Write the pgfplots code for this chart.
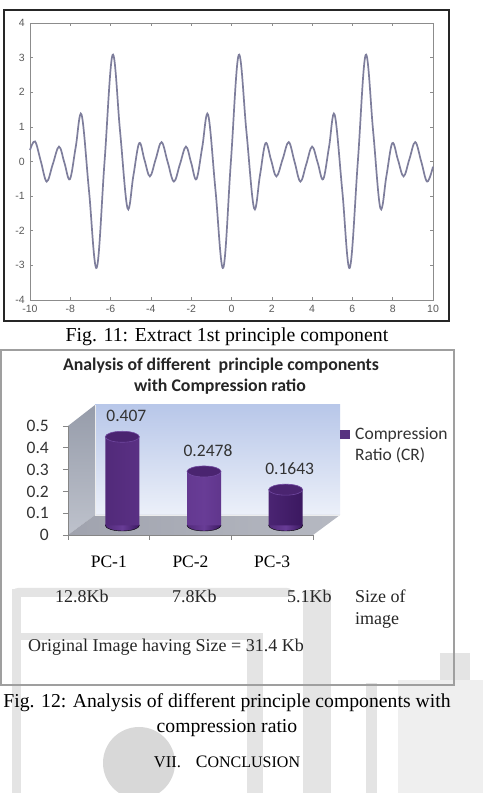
\documentclass[border=0pt]{standalone}
\usepackage{fontspec}
\setmainfont{Liberation Serif}
\newfontfamily\calfont{Carlito}
\newfontfamily\helfont{Liberation Sans}
\usepackage{pgfplots}
\usepackage{pgfplotstable}
\pgfplotsset{compat=1.18}

\definecolor{curve}{RGB}{126,126,156}
\definecolor{mlaxis}{RGB}{140,140,140}
\definecolor{mltext}{RGB}{90,90,90}
\definecolor{cylL}{RGB}{82,42,122}
\definecolor{cylM}{RGB}{104,60,150}
\definecolor{cylR}{RGB}{59,24,96}
\definecolor{cylTop}{RGB}{74,36,112}
\definecolor{cylRim}{RGB}{112,72,160}
\definecolor{wallTop}{RGB}{184,199,233}
\definecolor{wallBot}{RGB}{236,240,249}
\definecolor{sideTop}{RGB}{150,156,170}
\definecolor{sideBot}{RGB}{190,194,204}
\definecolor{floorA}{RGB}{160,163,174}
\definecolor{floorB}{RGB}{182,185,194}
\definecolor{xlaxis}{RGB}{134,134,134}
\definecolor{wm}{RGB}{228,228,228}
\definecolor{wmcirc}{RGB}{216,216,216}

% cylinder caps (ellipses) used for the 3-D columns
\pgfdeclareplotmark{cap}{%
  \pgfpathellipse{\pgfpointorigin}{\pgfqpoint{17pt}{0pt}}{\pgfqpoint{0pt}{5.5pt}}%
  \pgfusepathqfillstroke}
\pgfdeclareplotmark{capshade}{%
  \shade[left color=cylL, right color=cylR, middle color=cylM]
    (0pt,0pt) ellipse [x radius=17pt, y radius=5.5pt];}

% first principal component signal
\pgfplotstableread{
x y
-10.00 0.33
-9.75 0.58
-9.46 0.00
-9.17 -0.58
-8.87 -0.08
-8.56 0.43
-8.29 -0.04
-8.02 -0.51
-7.73 0.42
-7.44 1.35
-7.07 -0.86
-6.69 -3.07
-6.30 0.00
-5.90 3.08
-5.53 0.87
-5.16 -1.35
-4.87 -0.41
-4.58 0.53
-4.32 0.05
-4.05 -0.43
-3.76 0.07
-3.47 0.56
-3.17 -0.01
-2.86 -0.58
-2.56 -0.08
-2.26 0.43
-2.00 -0.04
-1.74 -0.51
-1.45 0.42
-1.16 1.35
-0.79 -0.86
-0.41 -3.07
-0.03 0.00
0.36 3.08
0.74 0.87
1.12 -1.35
1.41 -0.41
1.69 0.53
1.96 0.05
2.23 -0.43
2.54 0.07
2.84 0.56
3.13 -0.01
3.42 -0.58
3.71 -0.08
4.00 0.43
4.28 -0.04
4.55 -0.51
4.84 0.42
5.12 1.35
5.50 -0.86
5.87 -3.07
6.27 0.00
6.66 3.08
7.03 0.87
7.39 -1.35
7.69 -0.41
7.98 0.53
8.26 0.05
8.54 -0.43
8.83 0.07
9.12 0.56
9.42 -0.01
9.71 -0.58
10.00 -0.15
}\pcsignal

% compression ratio of each principal component
\pgfplotstableread{
x base cr
0.5 0 0.407
1.5 0 0.2478
2.5 0 0.1643
}\crdata

\pgfplotsset{midplane/.style={
  at={(81.5pt,267.5pt)}, anchor=south west,
  scale only axis, width=245pt, height=109pt,
  xmin=0, xmax=3, ymin=0, ymax=0.5,
  hide axis, clip=false}}

\begin{document}
\begin{tikzpicture}[x=1pt,y=1pt]
\path[use as bounding box] (0,0) rectangle (483,793);
\fill[white] (0,0) rectangle (483,793);

% ---- faint logo in the page background ----
\fill[wm] (12,0) rectangle (21,204);
\fill[wm,rounded corners=6pt] (12,196) -- (12,205) -- (293,205) -- (293,196) -- cycle;
\fill[wm] (21,153) rectangle (257,160);
\fill[wm] (247,0) rectangle (263,160);
\fill[wm] (303,0) rectangle (331,203);
\fill[wm] (440,0) rectangle (470,140);
\fill[wm] (366,0) rectangle (377,110);
\fill[wm!60] (398,0) -- (483,0) -- (483,113) -- (398,113) -- cycle;
\fill[wmcirc] (139,30) circle (36);

% ---- Fig. 11 ----
\begin{axis}[
  at={(30pt,493pt)}, anchor=south west,
  scale only axis, width=403pt, height=277pt,
  xmin=-10, xmax=10, ymin=-4, ymax=4,
  xtick={-10,-8,...,10}, ytick={-4,-3,...,4},
  tick align=inside, major tick length=3pt,
  axis line style={mlaxis, line width=0.8pt},
  every tick/.style={mlaxis, line width=0.6pt},
  /pgf/number format/assume math mode=true,
  ticklabel style={font=\helfont\fontsize{10.5}{12}\selectfont, text=mltext, inner sep=0pt},
  yticklabel style={anchor=east, xshift=-5pt},
  xticklabel style={anchor=north, yshift=-5pt},
  clip=false,
]
\addplot[curve, line width=1.7pt, smooth, tension=0.6] table[x=x, y=y] {\pcsignal};
\end{axis}
\draw[black!85, line width=1.4pt] (4,472) rectangle (449,783);
\node[anchor=base, font=\fontsize{19.8}{22}\selectfont] at (227,451) {Fig. 11: Extract 1st principle component};

% ---- Fig. 12 ----
\draw[gray!75, line width=1.5pt] (1,108) rectangle (454,443);
\node[anchor=base, font=\calfont\bfseries\fontsize{17.8}{20}\selectfont, text=black!85] at (221,422) {Analysis of different\ \ principle components};
\node[anchor=base, font=\calfont\bfseries\fontsize{17.8}{20}\selectfont, text=black!85] at (220,401) {with Compression ratio};

% walls and floor of the 3-D chart box
\shade[top color=wallTop, bottom color=wallBot] (95,278) rectangle (340,388);
\shade[top color=sideTop, bottom color=sideBot] (68,258) -- (68,367) -- (95,388) -- (95,278) -- cycle;
\shade[left color=floorA, right color=floorB] (68,258) -- (313,258) -- (340,278) -- (95,278) -- cycle;
\draw[white!85!gray, line width=0.5pt] (95,278) -- (340,278) (95,278) -- (95,388);

% front plane: value axis and category axis
\begin{axis}[
  at={(68pt,258pt)}, anchor=south west,
  scale only axis, width=245pt, height=109pt,
  xmin=0, xmax=3, ymin=0, ymax=0.5,
  axis x line*=bottom, axis y line*=left,
  axis line style={xlaxis, line width=0.8pt},
  every tick/.style={xlaxis, line width=0.8pt},
  tick align=outside, major tick length=5pt,
  ytick={0,0.1,0.2,0.3,0.4,0.5},
  xtick={0,1,2,3}, xticklabels={},
  extra x ticks={0.5,1.5,2.5},
  extra x tick labels={PC-1,PC-2,PC-3},
  extra x tick style={major tick length=0pt,
    xticklabel style={anchor=base, yshift=-33pt, inner sep=0pt,
      font=\fontsize{17.5}{20}\selectfont, text=black}},
  /pgf/number format/assume math mode=true,
  yticklabel style={anchor=east, xshift=-14pt, inner sep=0pt,
    font=\calfont\fontsize{17.5}{20}\selectfont, text=black!80},
  clip=false,
]
\end{axis}

% mid-depth plane: lower rims of the cylinders
\begin{axis}[midplane]
\addplot[only marks, mark=capshade] table[x=x, y=base] {\crdata};
\end{axis}

% mid-depth plane: cylinder bodies and tops
\begin{axis}[midplane]
\addplot[ybar, bar width=34pt, draw=none,
  left color=cylL, right color=cylR, middle color=cylM]
  table[x=x, y=cr] {\crdata};
\addplot[only marks, mark=cap, mark options={fill=cylTop, draw=cylRim, line width=0.6pt},
  nodes near coords={\pgfmathprintnumber[fixed,precision=4,assume math mode=true]{\pgfplotspointmeta}},
  every node near coord/.append style={anchor=base, yshift=15pt, xshift=4pt,
    inner sep=0pt, font=\calfont\fontsize{17.5}{20}\selectfont, text=black!80}]
  table[x=x, y=cr] {\crdata};
\end{axis}

% legend
\fill[cylM!85!black] (340,354) rectangle (350,363);
\node[anchor=base west, inner sep=0pt, font=\calfont\fontsize{17.5}{20}\selectfont, text=black!80] at (355,353) {Compression};
\node[anchor=base west, inner sep=0pt, font=\calfont\fontsize{17.5}{20}\selectfont, text=black!80] at (355,332) {Ratio (CR)};

% size of each compressed image
\begin{scope}[every node/.style={anchor=base west, inner sep=0pt, font=\fontsize{18}{20}\selectfont, text=black!85}]
\node at (55,190) {12.8Kb};
\node at (172,190) {7.8Kb};
\node at (287,190) {5.1Kb};
\node at (355,190) {Size of};
\node at (355,168) {image};
\node at (28,141) {Original Image having Size = 31.4 Kb};
\end{scope}

% captions
\node[anchor=base, font=\fontsize{19.7}{22}\selectfont] at (227,85) {Fig. 12: Analysis of different principle components with};
\node[anchor=base, font=\fontsize{19.7}{22}\selectfont] at (227,60) {compression ratio};
\node[anchor=base, font=\fontsize{16.5}{18}\selectfont] at (227,25)
  {VII.\hspace{15pt}{\fontsize{17.5}{18}\selectfont C}{\fontsize{16}{18}\selectfont ONCLUSION}};
\end{tikzpicture}
\end{document}
